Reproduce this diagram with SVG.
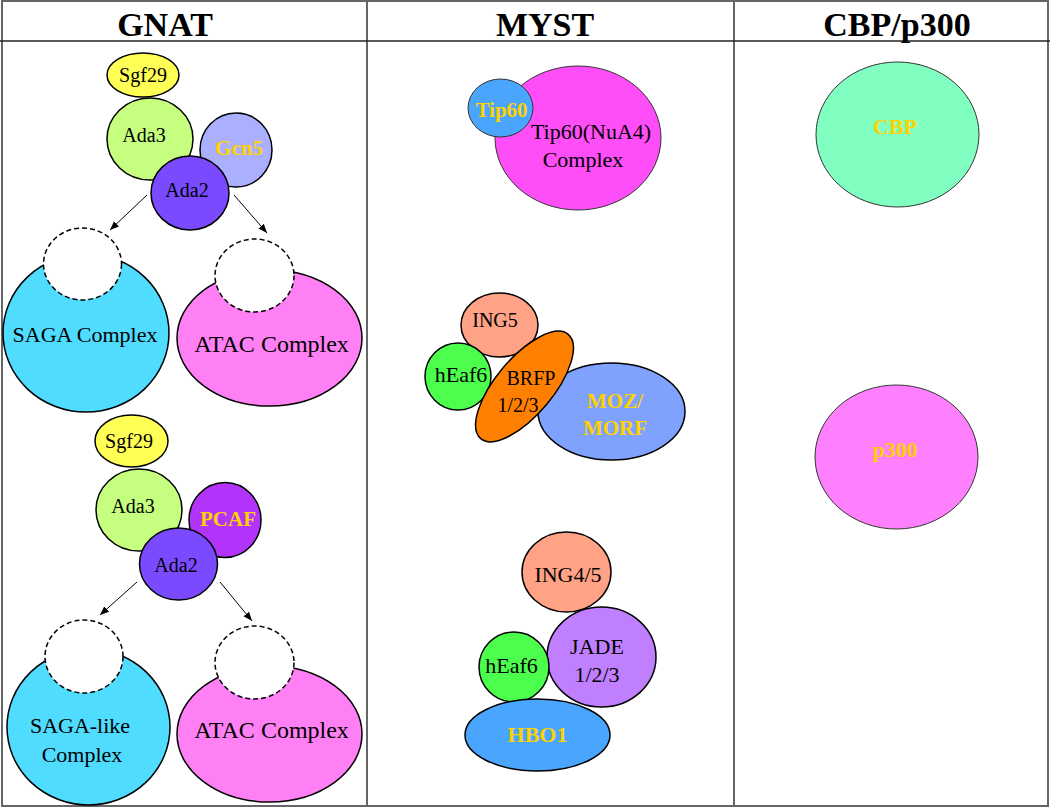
<svg xmlns="http://www.w3.org/2000/svg" width="1050" height="809" viewBox="0 0 1050 809">
<style>
  text { font-family: "Liberation Serif", "Times New Roman", serif; text-anchor: middle; fill: #000; }
  .hdr { font-size: 34px; font-weight: bold; }
  .t20 { font-size: 20px; }
  .t22 { font-size: 22px; }
  .t24 { font-size: 24px; }
  .gold { font-weight: bold; fill: #FFD200; font-size: 21px; }
  .n { stroke: #000; stroke-width: 1.5; }
  .thin { stroke: #333; stroke-width: 1; }
  .dash { fill: #fff; stroke: #000; stroke-width: 1.5; stroke-dasharray: 5 3; }
  .grid { stroke: #666; stroke-width: 2; fill: none; }
  .arrow { stroke: #000; stroke-width: 1; fill: none; marker-end: url(#ah); }
</style>
<defs>
  <marker id="ah" viewBox="0 0 10 10" refX="10" refY="5" markerWidth="9" markerHeight="9" markerUnits="userSpaceOnUse" orient="auto">
    <path d="M0,1 L10,5 L0,9 Z" fill="#000"/>
  </marker>
</defs>
<rect width="1050" height="809" fill="#fff"/>

<g id="table">
  <rect class="grid" x="2" y="1" width="1046" height="805"/>
  <line class="grid" x1="367" y1="1" x2="367" y2="806"/>
  <line class="grid" x1="734" y1="1" x2="734" y2="806"/>
  <line x1="0" y1="41" x2="1050" y2="41" stroke="#222" stroke-width="1.5"/>
  <text class="hdr" x="165" y="36">GNAT</text>
  <text class="hdr" x="545" y="36">MYST</text>
  <text class="hdr" x="897" y="36">CBP/p300</text>
</g>

<g id="connectors">
  <line class="arrow" x1="147" y1="195" x2="110" y2="230"/>
  <line class="arrow" x1="234" y1="195" x2="267" y2="233"/>
  <line class="arrow" x1="137" y1="582" x2="100" y2="615"/>
  <line class="arrow" x1="220" y1="582" x2="252" y2="621"/>
</g>

<!-- GNAT top -->
<g id="gnat1-sgf29"><ellipse class="n" cx="143" cy="75" rx="36" ry="22" fill="#FFFF55"/><text class="t20" x="143" y="82">Sgf29</text></g>
<g id="gnat1-ada3"><ellipse class="n" cx="150" cy="139" rx="43" ry="41" fill="#C6FF7F"/><text class="t20" x="144" y="142">Ada3</text></g>
<g id="gnat1-gcn5"><ellipse class="n" cx="236" cy="150" rx="36" ry="37" fill="#AAB0FF"/><text class="gold" x="239" y="155">Gcn5</text></g>
<g id="gnat1-ada2"><ellipse class="n" cx="190" cy="193" rx="39" ry="37" fill="#7A4AFF"/><text class="t20" x="187" y="197">Ada2</text></g>
<g id="gnat1-saga"><ellipse class="n" cx="86" cy="333" rx="83" ry="79" fill="#4FDCFF"/><ellipse class="dash" cx="82.5" cy="264" rx="39" ry="36"/><text class="t22" x="85" y="342">SAGA Complex</text></g>
<g id="gnat1-atac"><ellipse class="n" cx="269.5" cy="338" rx="92.5" ry="68" fill="#FF80F5"/><ellipse class="dash" cx="254.5" cy="275.5" rx="39.5" ry="36.5"/><text class="t24" x="271.5" y="352">ATAC Complex</text></g>

<!-- GNAT bottom -->
<g id="gnat2-sgf29"><ellipse class="n" cx="131.5" cy="441" rx="36.5" ry="26" fill="#FFFF55"/><text class="t20" x="129" y="448">Sgf29</text></g>
<g id="gnat2-ada3"><ellipse class="n" cx="139" cy="510" rx="43" ry="41" fill="#C6FF7F"/><text class="t20" x="133" y="513">Ada3</text></g>
<g id="gnat2-pcaf"><ellipse class="n" cx="225" cy="520" rx="36" ry="37.5" fill="#B234FA"/><text class="gold" x="228" y="526">PCAF</text></g>
<g id="gnat2-ada2"><ellipse class="n" cx="178.5" cy="564" rx="39" ry="36" fill="#7A4AFF"/><text class="t20" x="176" y="572">Ada2</text></g>
<g id="gnat2-sagalike"><ellipse class="n" cx="88.5" cy="727" rx="81.5" ry="78" fill="#4FDCFF"/><ellipse class="dash" cx="84" cy="656.5" rx="39" ry="36.5"/><text class="t22" x="80" y="733">SAGA-like</text><text class="t22" x="82" y="762">Complex</text></g>
<g id="gnat2-atac"><ellipse class="n" cx="269.5" cy="734" rx="92.5" ry="68" fill="#FF80F5"/><ellipse class="dash" cx="254.5" cy="662.5" rx="39.5" ry="36.5"/><text class="t24" x="271.5" y="738">ATAC Complex</text></g>

<!-- MYST -->
<g id="myst-tip60complex"><ellipse class="thin" cx="578" cy="138" rx="83" ry="72" fill="#FF4DF8"/><text class="t22" x="591" y="139">Tip60(NuA4)</text><text class="t22" x="583" y="167">Complex</text></g>
<g id="myst-tip60"><ellipse class="thin" cx="500.5" cy="108" rx="32.5" ry="29" fill="#4AA5FF"/><text class="gold" x="501.5" y="117">Tip60</text></g>

<g id="myst-moz"><ellipse class="n" cx="611.5" cy="411.5" rx="73.5" ry="48.5" fill="#80A2FF"/><text class="gold" x="615" y="408">MOZ/</text><text class="gold" x="615" y="435">MORF</text></g>
<g id="myst-ing5"><ellipse class="n" cx="499.5" cy="325" rx="38.5" ry="32" fill="#FFA285"/><text class="t20" x="495" y="327">ING5</text></g>
<g id="myst-heaf6a"><ellipse class="n" cx="458" cy="376.5" rx="33" ry="33.5" fill="#4CFF4C"/><text class="t22" x="461" y="382">hEaf6</text></g>
<g id="myst-brfp"><ellipse class="n" cx="524.5" cy="386.5" rx="68" ry="28.5" transform="rotate(-50 524.5 386.5)" fill="#FF8000"/><text class="t20" x="531" y="385">BRFP</text><text class="t20" x="518" y="412">1/2/3</text></g>

<g id="myst-ing45"><ellipse class="n" cx="566.5" cy="572" rx="44.5" ry="40" fill="#FFA285"/><text class="t22" x="568" y="582">ING4/5</text></g>
<g id="myst-jade"><ellipse class="n" cx="601.5" cy="657" rx="54.5" ry="50" fill="#C07FFF"/><text class="t22" x="597" y="654">JADE</text><text class="t22" x="597" y="682">1/2/3</text></g>
<g id="myst-heaf6b"><ellipse class="n" cx="514" cy="667" rx="35" ry="35" fill="#4CFF4C"/><text class="t22" x="511.5" y="673">hEaf6</text></g>
<g id="myst-hbo1"><ellipse class="n" cx="537.5" cy="735" rx="72.5" ry="36" fill="#4AA5FF"/><text class="gold" x="537.5" y="742" style="font-size:22px">HBO1</text></g>

<!-- CBP/p300 -->
<g id="cbp"><ellipse class="thin" cx="897.5" cy="134.5" rx="81.5" ry="72.5" fill="#80FFC0"/><text class="gold" x="895" y="134" style="font-size:22px">CBP</text></g>
<g id="p300"><ellipse class="thin" cx="896.5" cy="457" rx="81.5" ry="72" fill="#FF80FF"/><text class="gold" x="895" y="457" style="font-size:22px">p300</text></g>
</svg>
